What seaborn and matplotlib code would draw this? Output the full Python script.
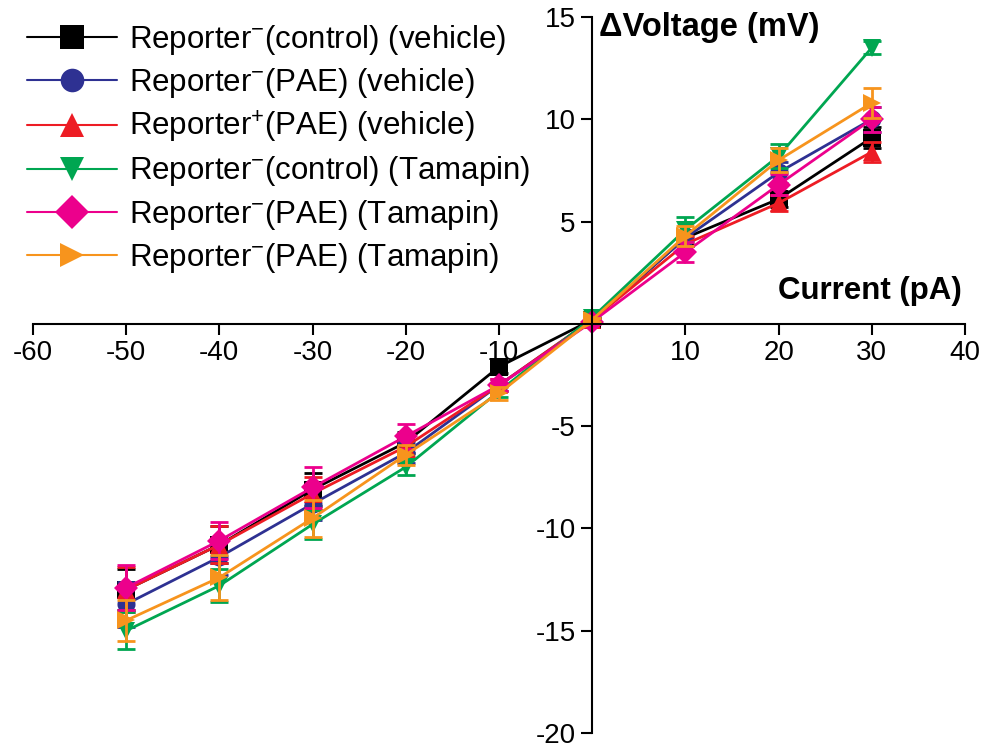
import numpy as np
import pandas as pd
import matplotlib
matplotlib.use("Agg")
import matplotlib.pyplot as plt
import seaborn as sns

sns.set_style("white")
plt.rcParams['font.family'] = ['Liberation Sans', 'DejaVu Sans']
plt.rcParams['mathtext.fontset'] = 'custom'
plt.rcParams['mathtext.rm'] = 'Liberation Sans'
plt.rcParams['axes.unicode_minus'] = False
plt.rcParams['text.color'] = 'black'
plt.rcParams['xtick.color'] = 'black'
plt.rcParams['ytick.color'] = 'black'

# Data
current = [-50, -40, -30, -20, -10, 0, 10, 20, 30]

ctrl_vehicle = [-13.0, -10.8, -8.1, -5.8, -2.1, 0.2, 4.2, 6.1, 9.1]
pae_vehicle = [-13.7, -11.4, -8.8, -6.3, -3.0, 0.2, 4.2, 7.4, 10.0]
pos_vehicle = [-13.0, -10.8, -8.3, -6.0, -3.0, 0.2, 3.9, 5.9, 8.4]
ctrl_tamapin = [-15.0, -12.8, -9.8, -7.0, -3.3, 0.3, 4.6, 8.2, 13.5]
pae_tamapin = [-12.9, -10.6, -8.0, -5.5, -3.0, 0.1, 3.5, 6.8, 10.0]
pae_tamapin2 = [-14.5, -12.4, -9.5, -6.4, -3.4, 0.2, 4.3, 8.0, 10.8]

err_ctrl_vehicle = [1.0, 0.9, 0.8, 0.5, 0.3, 0.1, 0.4, 0.4, 0.5]
err_pae_vehicle = [1.1, 0.9, 0.8, 0.5, 0.3, 0.1, 0.4, 0.5, 0.6]
err_pos_vehicle = [1.1, 0.9, 0.8, 0.5, 0.3, 0.1, 0.4, 0.4, 0.5]
err_ctrl_tamapin = [0.9, 0.8, 0.7, 0.4, 0.3, 0.1, 0.6, 0.6, 0.3]
err_pae_tamapin = [1.1, 0.9, 1.0, 0.6, 0.3, 0.1, 0.5, 0.5, 0.6]
err_pae_tamapin2 = [1.0, 1.1, 0.9, 0.5, 0.3, 0.1, 0.5, 0.6, 0.75]

labels = [r"Reporter$^{\mathregular{-}}$(control) (vehicle)",
          r"Reporter$^{\mathregular{-}}$(PAE) (vehicle)",
          r"Reporter$^{\mathregular{+}}$(PAE) (vehicle)",
          r"Reporter$^{\mathregular{-}}$(control) (Tamapin)",
          r"Reporter$^{\mathregular{-}}$(PAE) (Tamapin)",
          r"Reporter$^{\mathregular{-}}$(PAE) (Tamapin)"]
series = [ctrl_vehicle, pae_vehicle, pos_vehicle, ctrl_tamapin, pae_tamapin, pae_tamapin2]
errors = [err_ctrl_vehicle, err_pae_vehicle, err_pos_vehicle, err_ctrl_tamapin, err_pae_tamapin, err_pae_tamapin2]
colors = ["#000000", "#2E3192", "#ED1C24", "#00A651", "#EC008C", "#F7941D"]
markers = ["s", "o", "^", "v", "D", ">"]

fig = plt.figure(figsize=(9.87, 7.5), dpi=100)
ax = fig.add_axes([0.0334, 0.0227, 0.9443, 0.9547])

handles = []
for vals, err, c, m, lab in zip(series, errors, colors, markers, labels):
    df = pd.DataFrame({"Current": current, "Voltage": vals})
    sns.lineplot(data=df, x="Current", y="Voltage", color=c, marker=m,
                 markersize=13 if m != "D" else 12, markeredgewidth=0,
                 linewidth=2, ax=ax, legend=False)
    ax.errorbar(current, vals, yerr=err, fmt="none", ecolor=c,
                elinewidth=2, capsize=6.5, capthick=2)
    handles.append(plt.Line2D([], [], color=c, marker=m, markersize=17,
                              markeredgewidth=0, linewidth=1.5, label=lab))

ax.set_xlim(-60, 40)
ax.set_ylim(-20, 15)
ax.set_xticks([t for t in range(-60, 41, 10) if t != 0])
ax.set_yticks([t for t in range(-20, 16, 5) if t != 0])
ax.spines['left'].set_position(('data', 0))
ax.spines['bottom'].set_position(('data', 0))
ax.spines['top'].set_visible(False)
ax.spines['right'].set_visible(False)
for s in ['left', 'bottom']:
    ax.spines[s].set_linewidth(1.5)
    ax.spines[s].set_color('black')
ax.tick_params(axis='both', direction='out', length=8, width=1.5,
               labelsize=20, color='black', pad=4)
ax.tick_params(left=True, bottom=True)
ax.set_xlabel("")
ax.set_ylabel("")

ax.text(0.7, 14.5, "ΔVoltage (mV)", fontsize=23.5, fontweight='bold',
        ha='left', va='center')
ax.text(39.7, 1.6, "Current (pA)", fontsize=22.5, fontweight='bold',
        ha='right', va='center')

leg = ax.legend(handles=handles, loc='upper left', bbox_to_anchor=(-0.02, 1.009),
                frameon=False, fontsize=22.5, handlelength=2.9, numpoints=1,
                labelspacing=0.29, handletextpad=0.38, borderaxespad=0)

fig.savefig("out.png", dpi=100)
